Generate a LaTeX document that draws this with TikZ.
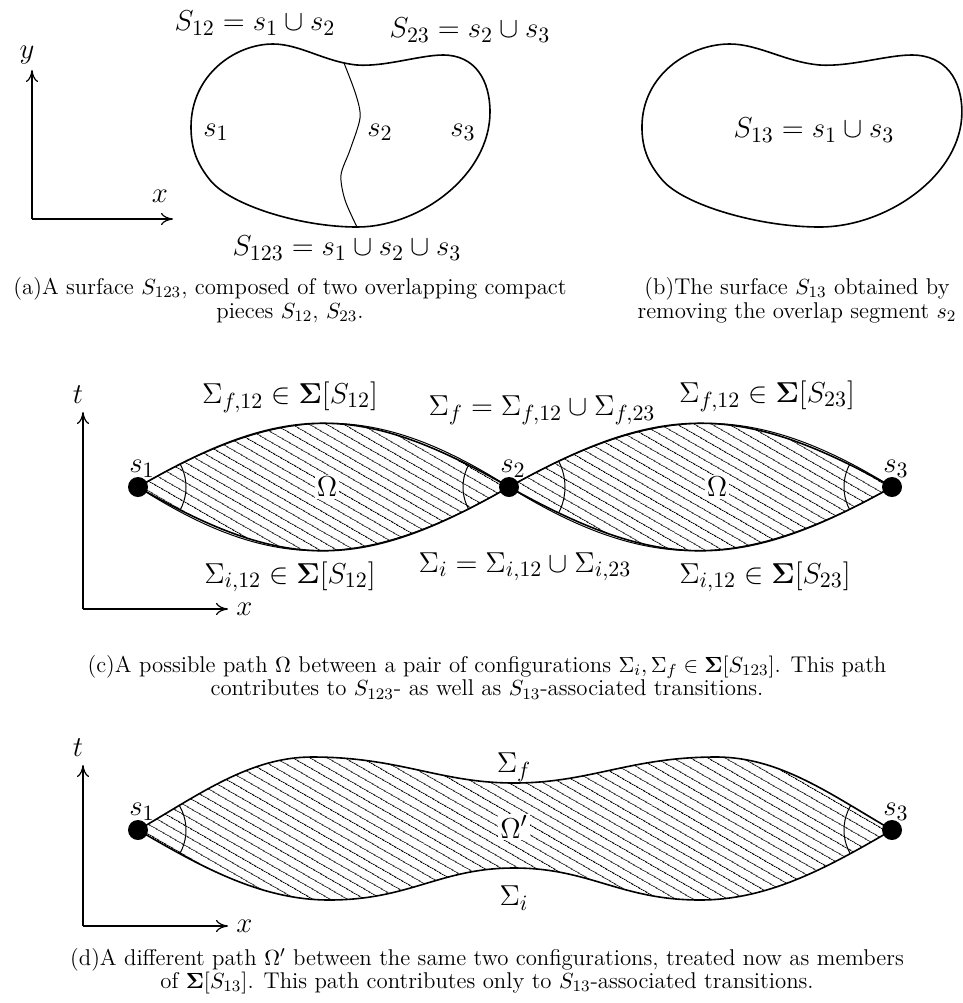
\documentclass[tikz,border=0pt]{standalone}
\usetikzlibrary{arrows.meta,positioning,patterns.meta}

\newcommand\lensone{(c1) .. controls (285,402) and (361,402) .. (c2) .. controls (361,572) and (285,572) .. (c1) -- cycle}
\newcommand\lenstwo{(c2) .. controls (661,402) and (740,402) .. (c3) .. controls (740,572) and (661,572) .. (c2) -- cycle}
\newcommand\lenslong{(d1) .. controls (200,794) and (250,757) .. (312,757) .. controls (400,757) and (440,783) .. (514,783) .. controls (590,783) and (630,757) .. (716,757) .. controls (780,757) and (830,794) .. (d3) .. controls (830,866) and (770,900) .. (700,900) .. controls (620,900) and (590,868) .. (514,868) .. controls (440,868) and (410,900) .. (329,900) .. controls (260,900) and (200,866) .. (d1) -- cycle}
\newcommand\blobpath{(191,127) .. controls (191,75) and (235,44) .. (273,44) .. controls (300,44) and (325,62) .. (357,65) .. controls (385,67) and (420,55) .. (443,55) .. controls (475,55) and (490,80) .. (490,112) .. controls (490,175) and (420,227) .. (357,227) .. controls (300,227) and (230,205) .. (210,180) .. controls (198,165) and (191,150) .. (191,127) -- cycle}

\begin{document}
\begin{tikzpicture}[x=0.5pt,y=-0.5pt]
  \tikzstyle{mathlabel}=[font=\fontsize{15.5}{18}\selectfont,inner sep=1pt]
  \tikzstyle{caption}=[font=\fontsize{11.4}{11.8}\selectfont,align=center]
  \tikzstyle{outline}=[line width=0.8pt]
  \tikzstyle{thin}=[line width=0.5pt]
  \tikzstyle{axis}=[-{To[length=6pt,width=6pt]},line width=0.6pt]
  \tikzstyle{endpoint}=[circle,fill,inner sep=0pt,minimum size=10pt]
  \tikzstyle{hatched}=[pattern={Lines[angle=-30,distance=4pt,line width=0.4pt]}]
  \tikzstyle{dotlabel}=[mathlabel,label distance=-1.5pt,xshift=2pt]
  \useasboundingbox (0,0) rectangle (963,1003);

  % (a)
  \coordinate (ao) at (32,219);
  \coordinate (ay) at (32,70);
  \coordinate (ax) at (173,219);
  \draw[axis] (ao) -- (ay);
  \draw[axis] (ao) -- (ax);
  \node[mathlabel] (ylab) at (27,55) {$y$};
  \node[mathlabel] (xlab) at (160,196) {$x$};
  \draw[outline] \blobpath;
  \draw[thin] plot[smooth] coordinates {(344,63) (356,95) (360,118) (350,150) (341,175) (345,200) (357,227)};
  \node[mathlabel] (s12) at (255,23) {$S_{12}=s_1\cup s_2$};
  \node[mathlabel] (s23) at (470,30) {$S_{23}=s_2\cup s_3$};
  \node[mathlabel] (s123) at (347,248) {$S_{123}=s_1\cup s_2\cup s_3$};
  \node[mathlabel] (pa1) at (216,132) {$s_1$};
  \node[mathlabel] (pa2) at (380,132) {$s_2$};
  \node[mathlabel] (pa3) at (463,132) {$s_3$};

  % (b)
  \begin{scope}[shift={(437.6,0)},xscale=1.07]
    \draw[outline] \blobpath;
  \end{scope}
  \node[mathlabel] (s13) at (814,130) {$S_{13}=s_1\cup s_3$};

  \node[caption] (capa) at (290,300) {(a)A surface $S_{123}$, composed of two overlapping compact\\pieces $S_{12}$, $S_{23}$.};
  \node[caption] (capb) at (797,300) {(b)The surface $S_{13}$ obtained by\\removing the overlap segment $s_2$};

  % (c)
  \coordinate (co) at (83,609);
  \coordinate (ct) at (83,412);
  \coordinate (cx) at (228,609);
  \draw[axis] (co) -- (ct);
  \draw[axis] (co) -- (cx);
  \node[mathlabel] (tlabc) at (78,395) {$t$};
  \node[mathlabel,right=3pt of cx] (xlabc) {$x$};
  \coordinate (c1) at (138,487);
  \coordinate (c2) at (509,487);
  \coordinate (c3) at (892,487);
  \path[hatched] \lensone;
  \path[hatched] \lenstwo;
  \draw[outline] \lensone;
  \draw[outline] \lenstwo;
  \draw[thin] (c1) .. controls (285,402) and (375,402) .. (c2);
  \draw[thin] (c2) .. controls (361,572) and (271,572) .. (c1);
  \draw[thin] (c2) .. controls (661,402) and (754,402) .. (c3);
  \draw[thin] (c3) .. controls (740,572) and (647,572) .. (c2);
  \begin{scope}
    \clip \lensone;
    \draw[thin] (c1) circle[radius=48];
    \draw[thin] (c2) circle[radius=46];
  \end{scope}
  \begin{scope}
    \clip \lenstwo;
    \draw[thin] (c2) circle[radius=56];
    \draw[thin] (c3) circle[radius=48];
  \end{scope}
  \node[endpoint,label={[dotlabel]above:$s_1$}] (dot1) at (c1) {};
  \node[endpoint,label={[dotlabel]above:$s_2$}] (dot2) at (c2) {};
  \node[endpoint,label={[dotlabel]above:$s_3$}] (dot3) at (c3) {};
  \node[mathlabel,fill=white] (om1) at (327,487) {$\Omega$};
  \node[mathlabel,fill=white] (om2) at (717,487) {$\Omega$};
  \node[mathlabel] (sf12) at (290,397) {$\Sigma_{f,12}\in\mathbf{\Sigma}[S_{12}]$};
  \node[mathlabel] (sf) at (542,410) {$\Sigma_f=\Sigma_{f,12}\cup\Sigma_{f,23}$};
  \node[mathlabel] (sf23) at (767,396) {$\Sigma_{f,12}\in\mathbf{\Sigma}[S_{23}]$};
  \node[mathlabel] (si12) at (290,577) {$\Sigma_{i,12}\in\mathbf{\Sigma}[S_{12}]$};
  \node[mathlabel] (si) at (525,567) {$\Sigma_i=\Sigma_{i,12}\cup\Sigma_{i,23}$};
  \node[mathlabel] (si23) at (765,577) {$\Sigma_{i,12}\in\mathbf{\Sigma}[S_{23}]$};

  \node[caption] (capc) at (487,677) {(c)A possible path $\Omega$ between a pair of configurations $\Sigma_i,\Sigma_f\in\mathbf{\Sigma}[S_{123}]$. This path\\contributes to $S_{123}$- as well as $S_{13}$-associated transitions.};

  % (d)
  \coordinate (do) at (83,926);
  \coordinate (dt) at (83,765);
  \coordinate (dx) at (228,926);
  \draw[axis] (do) -- (dt);
  \draw[axis] (do) -- (dx);
  \node[mathlabel] (tlabd) at (78,748) {$t$};
  \node[mathlabel,right=3pt of dx] (xlabd) {$x$};
  \coordinate (d1) at (138,830);
  \coordinate (d3) at (892,830);
  \path[hatched] \lenslong;
  \draw[outline] \lenslong;
  \begin{scope}
    \clip \lenslong;
    \draw[thin] (d1) circle[radius=48];
    \draw[thin] (d3) circle[radius=48];
  \end{scope}
  \node[endpoint,label={[dotlabel]above:$s_1$}] (dot4) at (d1) {};
  \node[endpoint,label={[dotlabel]above:$s_3$}] (dot5) at (d3) {};
  \node[mathlabel,fill=white] (om3) at (514,827) {$\Omega'$};
  \node[mathlabel] (sfd) at (514,767) {$\Sigma_f$};
  \node[mathlabel] (sid) at (514,898) {$\Sigma_i$};

  \node[caption] (capd) at (487,971) {(d)A different path $\Omega'$ between the same two configurations, treated now as members\\of $\mathbf{\Sigma}[S_{13}]$. This path contributes only to $S_{13}$-associated transitions.};
\end{tikzpicture}
\end{document}
